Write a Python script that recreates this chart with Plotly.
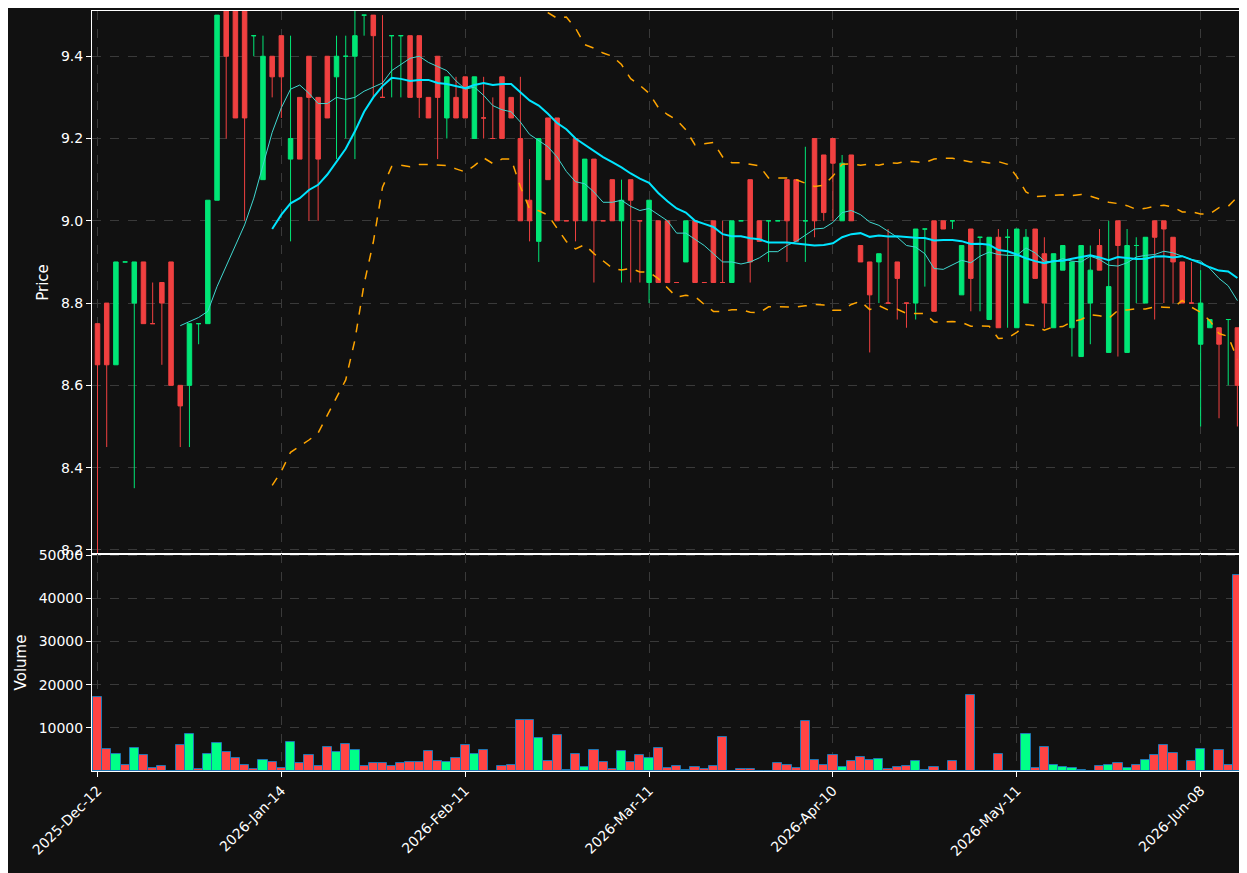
import plotly.graph_objects as go
import pandas as pd

opens = [8.75,8.8,8.65,8.9,8.8,8.9,8.75,8.85,8.9,8.6,8.6,8.75,8.75,9.05,9.55,9.55,9.55,9.45,9.1,9.4,
         9.45,9.15,9.3,9.4,9.3,9.4,9.35,9.4,9.4,9.5,9.5,9.3,9.45,9.45,9.45,9.45,9.3,9.4,9.25,9.3,
         9.35,9.2,9.25,9.2,9.35,9.3,9.2,9.05,8.95,9.25,9.25,9.0,9.2,9.0,9.15,9.0,9.1,9.0,9.1,9.0,
         8.85,9.0,9.0,8.85,8.9,9.0,8.85,9.0,8.85,8.85,9.0,9.1,9.0,9.0,9.0,9.1,9.1,9.0,9.2,9.16,
         9.2,9.0,9.16,8.94,8.9,8.9,8.8,8.9,8.8,8.8,8.98,9.0,9.0,9.0,8.82,8.98,8.96,8.76,8.96,8.96,
         8.74,8.8,8.98,8.92,8.74,8.88,8.74,8.67,8.8,8.94,8.68,9.0,8.68,8.94,8.8,9.0,9.0,8.96,8.9,8.8,
         8.7,8.74,8.74,8.76,8.74]
highs = [8.75,8.8,8.9,8.9,8.9,8.9,8.85,8.85,8.9,8.6,8.75,8.75,9.05,9.5,9.55,9.55,9.55,9.45,9.45,9.4,
         9.45,9.45,9.3,9.4,9.3,9.4,9.45,9.45,9.55,9.5,9.5,9.5,9.45,9.45,9.45,9.45,9.3,9.4,9.35,9.35,
         9.35,9.35,9.35,9.3,9.35,9.3,9.35,9.15,9.2,9.25,9.25,9.0,9.2,9.15,9.15,9.0,9.1,9.1,9.1,9.0,
         9.05,9.0,9.0,8.85,9.0,9.0,8.85,9.0,9.0,9.0,9.0,9.1,9.0,9.0,9.0,9.1,9.1,9.18,9.2,9.16,
         9.2,9.16,9.16,8.94,8.9,8.92,8.98,8.9,8.8,8.98,8.98,9.0,9.0,9.0,8.94,8.98,8.96,8.96,8.98,8.98,
         8.98,8.98,8.98,8.96,8.92,8.94,8.9,8.94,8.94,8.98,9.0,9.0,8.98,8.96,8.96,9.0,9.0,8.96,8.9,8.9,
         8.88,8.76,8.74,8.76,8.74]
lows = [8.18,8.45,8.65,8.9,8.35,8.75,8.75,8.65,8.6,8.45,8.45,8.7,8.75,9.05,9.2,9.25,9.0,9.4,9.1,9.3,
        9.25,8.95,9.15,9.0,9.0,9.25,9.15,9.2,9.15,9.45,9.3,9.3,9.3,9.3,9.3,9.25,9.25,9.15,9.2,9.25,
        9.25,9.2,9.2,9.2,9.2,9.25,9.0,8.95,8.9,9.1,9.0,9.0,8.95,9.0,8.85,9.0,9.0,8.85,8.85,8.85,
        8.8,8.85,8.85,8.85,8.9,8.85,8.85,8.85,8.85,8.85,9.0,8.85,8.95,8.9,9.0,8.9,8.95,8.9,8.96,9.0,
        9.0,9.0,9.0,8.9,8.68,8.8,8.8,8.76,8.74,8.76,8.84,8.78,8.98,8.98,8.82,8.78,8.78,8.76,8.74,8.74,
        8.74,8.8,8.86,8.74,8.74,8.88,8.67,8.67,8.7,8.88,8.68,8.67,8.68,8.8,8.8,8.76,8.8,8.8,8.8,8.8,
        8.5,8.74,8.52,8.6,8.5]
closes = [8.65,8.65,8.9,8.9,8.9,8.75,8.75,8.8,8.6,8.55,8.75,8.75,9.05,9.5,9.4,9.25,9.25,9.45,9.4,9.35,
          9.35,9.2,9.15,9.3,9.15,9.25,9.4,9.4,9.45,9.5,9.45,9.3,9.45,9.45,9.3,9.3,9.25,9.3,9.35,9.25,
          9.25,9.35,9.25,9.2,9.2,9.25,9.0,9.0,9.2,9.1,9.0,9.0,9.0,9.15,9.0,9.0,9.0,9.05,9.05,9.0,
          9.05,8.85,8.85,8.85,9.0,8.85,8.85,8.85,8.85,9.0,9.0,8.9,8.95,9.0,9.0,9.0,8.95,9.0,9.0,9.02,
          9.14,9.14,9.0,8.9,8.82,8.92,8.8,8.86,8.8,8.98,8.98,8.78,8.98,9.0,8.94,8.86,8.96,8.96,8.74,8.96,
          8.98,8.96,8.86,8.8,8.92,8.94,8.9,8.94,8.88,8.88,8.84,8.94,8.94,8.94,8.96,8.96,8.98,8.9,8.8,8.8,
          8.8,8.76,8.7,8.76,8.6]
volumes = [17200,5000,3900,1300,5300,3600,800,1100,0,6000,8500,400,3900,6400,4300,2900,1500,400,2500,2000,
           600,6700,1800,3600,1100,5500,4300,6200,4800,1100,1800,1800,1100,1800,2000,2000,4600,2200,2000,2900,
           6000,3900,4800,0,1100,1300,11800,11800,7600,2200,8300,150,3900,850,4800,2000,400,4600,2000,3600,
           2900,5300,600,1100,150,850,400,1100,7800,100,400,400,100,100,1800,1500,600,11500,2500,1300,
           3600,850,2200,3200,2500,2700,400,850,1100,2200,150,850,100,2200,100,17600,100,0,3900,100,
           0,8500,600,5500,1500,850,600,150,0,1100,1500,1800,600,1300,2500,3600,6000,4100,100,2200,
           5000,0,4800,1500,45500]
tick_pos = [0, 20, 40, 60, 80, 100, 120]
tick_labels = ["2025-Dec-12", "2026-Jan-14", "2026-Feb-11", "2026-Mar-11",
               "2026-Apr-10", "2026-May-11", "2026-Jun-08"]

x = list(range(len(closes)))
s = pd.Series(closes)
ma10 = s.rolling(10).mean()
ma20 = s.rolling(20).mean()
sd20 = s.rolling(20).std(ddof=0)
upper = ma20 + 2 * sd20
lower = ma20 - 2 * sd20

UP, DOWN = "#00e676", "#f04040"
vcol = ["#00ff88" if c > o else "#ff4444" for o, c in zip(opens, closes)]

fig = go.Figure()
fig.add_trace(go.Candlestick(x=x, open=opens, high=highs, low=lows, close=closes,
                             increasing=dict(line=dict(color=UP, width=1), fillcolor=UP),
                             decreasing=dict(line=dict(color=DOWN, width=1), fillcolor=DOWN),
                             whiskerwidth=0, xaxis="x", yaxis="y", showlegend=False))
fig.add_trace(go.Scatter(x=x, y=ma10, mode="lines", line=dict(color="#40d8d0", width=1),
                         showlegend=False, yaxis="y"))
fig.add_trace(go.Scatter(x=x, y=ma20, mode="lines", line=dict(color="#00e5ff", width=2),
                         showlegend=False, yaxis="y"))
for b in (upper, lower):
    fig.add_trace(go.Scatter(x=x, y=b, mode="lines", line=dict(color="#ffa500", width=1.5, dash="dash"),
                             showlegend=False, yaxis="y"))
fig.add_trace(go.Bar(x=x, y=volumes, marker=dict(color=vcol, line=dict(color="#1f77b4", width=1)),
                     width=1.0, showlegend=False, xaxis="x2", yaxis="y2"))

ax = dict(showline=True, linecolor="white", mirror=True, gridcolor="#3a3a3a", griddash="dash",
          zeroline=False, tickfont=dict(color="white", size=14), color="white", automargin=False)
fig.update_layout(
    width=1247, height=873, paper_bgcolor="#111111", plot_bgcolor="#111111",
    margin=dict(l=84, r=13, t=3, b=110, pad=0), bargap=0,
    xaxis=dict(**ax, domain=[0, 1], range=[-0.6, 124.5], anchor="y", tickvals=tick_pos,
               showticklabels=False, ticks=""),
    xaxis2=dict(**ax, domain=[0, 1], range=[-0.6, 124.5], anchor="y2", matches="x", tickvals=tick_pos,
                ticktext=tick_labels, tickangle=-45, ticks="outside", ticklen=5, tickcolor="white"),
    yaxis=dict(**ax, domain=[0.2855, 1], range=[8.19, 9.51], tickvals=[8.2, 8.4, 8.6, 8.8, 9.0, 9.2, 9.4],
               ticktext=["8.2", "8.4", "8.6", "8.8", "9.0", "9.2", "9.4"],
               title=dict(text="Price", font=dict(color="white", size=15), standoff=8),
               ticks="outside", ticklen=5, tickcolor="white"),
    yaxis2=dict(**ax, domain=[0, 0.2855], range=[0, 50300], tickvals=[10000, 20000, 30000, 40000, 50000],
                ticktext=["10000", "20000", "30000", "40000", "50000"],
                title=dict(text="Volume", font=dict(color="white", size=15), standoff=8),
                ticks="outside", ticklen=5, tickcolor="white"),
    font=dict(family="DejaVu Sans", color="white"),
)
fig.update_xaxes(rangeslider_visible=False)
fig.write_html("out.html")
